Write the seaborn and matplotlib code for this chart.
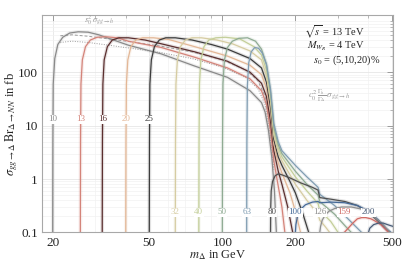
import numpy as np
import pandas as pd
import matplotlib
matplotlib.use("Agg")
import matplotlib.pyplot as plt
from matplotlib.ticker import LogLocator, NullFormatter
import seaborn as sns

sns.set_theme(style="white")
plt.rcParams["font.family"] = ["Liberation Serif", "DejaVu Serif"]
plt.rcParams["mathtext.fontset"] = "stix"

# heavy neutrino masses (GeV), one curve each
m_N = [10, 13, 16, 20, 25, 32, 40, 50, 63, 80, 100, 126, 159, 200]
colors = ["#8a8a8a", "#d4847a", "#5b2f2f", "#e3b796", "#3d3d3d", "#d6cca2", "#c4cf9a",
          "#8fab93", "#809db2", "#505050", "#466a98", "#8e8e8e", "#d06a64", "#4a5d78"]

# m_Delta (GeV) and sigma*Br (fb)
m10 = [20.0, 20.03, 20.1, 20.4, 21.0, 22.0, 23.5, 25.5, 28, 31, 34, 41, 56, 77, 105, 130, 145, 150, 155, 160, 164, 167]
s10 = [0.1, 5, 60, 180, 330, 450, 540, 570, 560, 500, 430, 320, 220, 130, 80, 45, 27, 18, 8, 2.5, 0.6, 0.1]
m13 = [26.0, 26.05, 26.15, 26.5, 27.3, 28.6, 30.5, 33, 37, 41, 56, 77, 105, 130, 145, 152, 158, 163, 168, 176, 181]
s13 = [0.1, 5, 60, 170, 300, 400, 450, 460, 440, 380, 290, 190, 120, 75, 45, 25, 8, 2.2, 1.0, 0.3, 0.1]
m16 = [32.0, 32.06, 32.2, 32.6, 33.6, 35.2, 37.5, 41, 48, 56, 77, 105, 130, 145, 152, 158, 163, 170, 176, 186, 195]
s16 = [0.1, 5, 60, 170, 300, 400, 440, 440, 400, 340, 240, 160, 100, 62, 35, 12, 3.4, 1.4, 0.8, 0.3, 0.1]
m20 = [40.0, 40.08, 40.25, 40.8, 42, 44, 47, 52, 60, 77, 105, 130, 145, 152, 158, 163, 170, 176, 190, 200, 210]
s20 = [0.1, 5, 60, 170, 300, 400, 440, 440, 410, 300, 200, 135, 90, 50, 18, 4.5, 2.0, 1.3, 0.55, 0.25, 0.1]
m25 = [50.0, 50.1, 50.3, 51, 52.5, 55, 58.5, 64, 75, 90, 105, 130, 145, 152, 158, 163, 170, 176, 190, 200, 215, 227]
s25 = [0.1, 5, 60, 170, 300, 400, 440, 440, 400, 330, 270, 180, 120, 65, 22, 5.5, 2.6, 1.8, 0.9, 0.55, 0.22, 0.1]
m32 = [64.0, 64.13, 64.4, 65.3, 67.2, 70.4, 75, 82, 95, 110, 130, 145, 152, 158, 163, 170, 176, 200, 223, 248, 252, 265, 277]
s32 = [0.1, 5, 60, 170, 300, 400, 440, 440, 400, 340, 250, 170, 85, 28, 6.5, 3.2, 2.2, 0.8, 0.4, 0.22, 0.17, 0.13, 0.1]
m40 = [80.0, 80.16, 80.5, 81.6, 84, 88, 94, 103, 118, 135, 145, 152, 158, 163, 170, 176, 200, 223, 248, 252, 280, 300]
s40 = [0.1, 5, 60, 170, 300, 400, 440, 450, 420, 300, 210, 110, 35, 8, 3.8, 2.6, 1.1, 0.6, 0.35, 0.26, 0.16, 0.1]
m50 = [100.0, 100.2, 100.6, 102, 105, 110, 117, 127, 137, 145, 152, 158, 163, 170, 176, 200, 223, 248, 252, 290, 322, 340]
s50 = [0.1, 5, 60, 170, 290, 380, 430, 440, 380, 270, 140, 42, 9.5, 4.4, 3.0, 1.4, 0.8, 0.5, 0.38, 0.22, 0.13, 0.1]
m63 = [126.0, 126.25, 126.8, 128.5, 131.5, 136, 141, 146, 152, 158, 163, 170, 176, 200, 223, 248, 252, 290, 322, 354, 375]
s63 = [0.1, 5, 55, 150, 240, 290, 280, 230, 140, 48, 11, 5, 3.4, 1.8, 1.1, 0.7, 0.52, 0.32, 0.2, 0.13, 0.1]
m80 = [158.0, 158.3, 159, 161, 165, 170, 176, 190, 210, 235, 248, 252, 280, 320, 360, 400, 440, 470, 490]
s80 = [0.1, 0.3, 0.6, 0.9, 1.15, 1.25, 1.2, 1.05, 0.85, 0.7, 0.62, 0.45, 0.42, 0.38, 0.32, 0.24, 0.16, 0.12, 0.1]
m100 = [200.0, 201, 204, 210, 220, 235, 248, 252, 280, 320, 360, 400, 440, 470, 495]
s100 = [0.1, 0.14, 0.2, 0.27, 0.33, 0.37, 0.38, 0.36, 0.37, 0.36, 0.32, 0.25, 0.17, 0.12, 0.1]
m126 = [252.0, 254, 258, 265, 275, 290, 310, 340, 380, 420, 460, 490]
s126 = [0.1, 0.13, 0.17, 0.21, 0.25, 0.28, 0.3, 0.3, 0.27, 0.2, 0.14, 0.1]
m159 = [318.0, 330, 345, 360, 375, 390, 410, 430, 450, 470, 484]
s159 = [0.1, 0.12, 0.15, 0.18, 0.19, 0.19, 0.18, 0.16, 0.14, 0.115, 0.1]
m200 = [400.0, 405, 420, 440, 460, 480, 505]
s200 = [0.1, 0.12, 0.14, 0.15, 0.15, 0.14, 0.13]

# s0^2 sigma(gg->h) envelopes
env_m = [21.5, 24, 28, 34, 42, 55, 75, 100, 125, 140, 150, 157, 163]
env_hi = [480, 500, 470, 420, 370, 310, 240, 170, 110, 70, 35, 10, 2]
env_lo = [360, 380, 360, 320, 280, 235, 180, 125, 80, 50, 25, 7, 1.5]

curve_m = [m10, m13, m16, m20, m25, m32, m40, m50, m63, m80, m100, m126, m159, m200]
curve_s = [s10, s13, s16, s20, s25, s32, s40, s50, s63, s80, s100, s126, s159, s200]

rows = []
for n, ms, ss in zip(m_N, curve_m, curve_s):
    for mm, sv in zip(ms, ss):
        rows.append((n, mm, sv))
df = pd.DataFrame(rows, columns=["mN", "mDelta", "sigma"])

fig = plt.figure(figsize=(4.03, 2.66), dpi=100)
ax = fig.add_axes([0.1042, 0.126, 0.871, 0.818])
ax.set_xscale("log")
ax.set_yscale("log")

ax.grid(True, which="major", color="#e6e6e6", lw=0.6)
ax.grid(True, which="minor", color="#f1f1f1", lw=0.5)
ax.set_axisbelow(True)

# faint bands behind each curve
for n, c in zip(m_N, colors):
    d = df[df.mN == n]
    sns.lineplot(data=d, x="mDelta", y="sigma", ax=ax, color=c, lw=2.6, alpha=0.15,
                 estimator=None, sort=False)
env = pd.DataFrame({"m": env_m, "hi": env_hi, "lo": env_lo})
sns.lineplot(data=env, x="m", y="hi", ax=ax, color="#9a9a9a", lw=0.7, ls=(0, (3, 2)),
             estimator=None, sort=False)
sns.lineplot(data=env, x="m", y="lo", ax=ax, color="#9a9a9a", lw=0.7, ls=(0, (1, 1.5)),
             estimator=None, sort=False)
for n, c in zip(m_N, colors):
    d = df[df.mN == n]
    sns.lineplot(data=d, x="mDelta", y="sigma", ax=ax, color=c, lw=0.9,
                 estimator=None, sort=False)

# mass labels sitting on the curves
lab_style = dict(ha="center", va="center", fontsize=6.5,
                 bbox=dict(boxstyle="square,pad=0.05", fc="white", ec="none"))
for n, c in zip(m_N, colors):
    yl = 13.2 if n <= 25 else 0.24
    ax.text(2 * n, yl, str(n), color=c, **lab_style)

ax.text(31, 950, r"$s_0^2\,\sigma_{gg\to h}$", color="#999999", fontsize=6, ha="center", va="center")
ax.text(275, 37, r"$c_0^2\,\frac{\Gamma_h}{\Gamma_\Delta}\,\sigma_{gg\to h}$", color="#999999",
        fontsize=6.5, ha="center", va="center")
ax.text(0.92, 0.925, r"$\sqrt{s}$ = 13 TeV", transform=ax.transAxes, ha="right", va="center", fontsize=7.5)
ax.text(0.92, 0.855, r"$M_{W_R}$ = 4 TeV", transform=ax.transAxes, ha="right", va="center", fontsize=7.5)
ax.text(0.963, 0.79, r"$s_0$ = (5,10,20)%", transform=ax.transAxes, ha="right", va="center", fontsize=7.5)

ax.set_xlim(18.07, 505)
ax.set_ylim(0.1, 1180)
ax.set_xticks([20, 50, 100, 200, 500])
ax.set_xticklabels(["20", "50", "100", "200", "500"])
ax.set_yticks([0.1, 1, 10, 100])
ax.set_yticklabels(["0.1", "1", "10", "100"])
ax.xaxis.set_minor_locator(LogLocator(base=10, subs=np.arange(2, 10)))
ax.yaxis.set_minor_locator(LogLocator(base=10, subs=np.arange(2, 10)))
ax.xaxis.set_minor_formatter(NullFormatter())
ax.yaxis.set_minor_formatter(NullFormatter())
ax.tick_params(which="both", direction="in", top=True, right=True, color="#9c9c9c",
               labelsize=9.5, pad=3)
ax.tick_params(which="major", length=4, width=0.7)
ax.tick_params(which="minor", length=2, width=0.5)
for sp in ax.spines.values():
    sp.set_color("#a8a8a8")
    sp.set_linewidth(0.8)

ax.set_xlabel(r"$m_\Delta$ in GeV", fontsize=9, labelpad=0)
ax.set_ylabel(r"$\sigma_{gg\to\Delta}\,\mathrm{Br}_{\Delta\to NN}$ in fb", fontsize=9)
ax.yaxis.set_label_coords(-0.062, 0.5)

fig.savefig("out.png", dpi=100)
